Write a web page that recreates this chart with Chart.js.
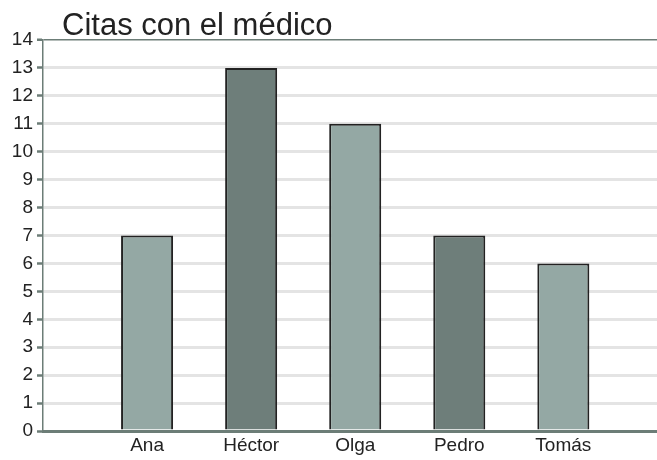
<!DOCTYPE html>
<html>
<head>
<meta charset="utf-8">
<script src="https://cdn.jsdelivr.net/npm/chart.js@4"></script>
<style>
    html, body { margin: 0; padding: 0; background: #ffffff; }
    #chart { display: block; }
</style>
</head>
<body>
<canvas id="chart" width="657" height="460"></canvas>
<script>
// Data
const TITLE = 'Citas con el médico';
const names = ['Ana', 'Héctor', 'Olga', 'Pedro', 'Tomás'];
const visits = [7, 13, 11, 7, 6];
const yTicks = [0, 1, 2, 3, 4, 5, 6, 7, 8, 9, 10, 11, 12, 13, 14];

// Colors
const COLORS = {
    light: '#94a8a4',
    dark: '#6e7e7a',
    axis: '#6c7d77',
    grid: '#e4e4e4',
    edge: '#222222',
    text: '#222222'
};
const FONT = 'Arial, "Liberation Sans", sans-serif';

// Title drawn at the top-left, above the plot
const titlePlugin = {
    id: 'leftTitle',
    afterDraw(chart) {
        const ctx = chart.ctx;
        ctx.save();
        ctx.font = '31px ' + FONT;
        ctx.fillStyle = COLORS.text;
        ctx.textBaseline = 'alphabetic';
        ctx.textAlign = 'left';
        ctx.fillText(TITLE, 62, 35);
        ctx.restore();
    }
};

const ctx = document.getElementById('chart').getContext('2d');

new Chart(ctx, {
    type: 'bar',
    data: {
        datasets: [{
            data: names.map((n, i) => ({ x: i + 1, y: visits[i] })),
            backgroundColor: names.map((n, i) => i % 2 === 0 ? COLORS.light : COLORS.dark),
            borderColor: COLORS.edge,
            borderWidth: { top: 2, left: 2, right: 2, bottom: 0 },
            borderSkipped: false,
            categoryPercentage: 1,
            barPercentage: 0.5
        }]
    },
    options: {
        responsive: false,
        animation: false,
        layout: { padding: { top: 40, left: 0, right: 0, bottom: 0 } },
        plugins: {
            legend: { display: false },
            tooltip: { enabled: false },
            title: { display: false }
        },
        scales: {
            x: {
                type: 'linear',
                min: 0,
                max: 5.9,
                offset: false,
                z: 1,
                afterBuildTicks: (scale) => {
                    scale.ticks = names.map((n, i) => ({ value: i + 1 }));
                },
                afterFit: (scale) => { scale.height = 29; },
                grid: { display: false, drawTicks: false },
                border: { display: true, color: COLORS.axis, width: 3 },
                ticks: {
                    autoSkip: false,
                    maxRotation: 0,
                    padding: 3,
                    color: COLORS.text,
                    font: { family: FONT, size: 19 },
                    callback: (v) => names[v - 1] || ''
                }
            },
            y: {
                min: 0,
                max: 14,
                afterBuildTicks: (scale) => {
                    scale.ticks = yTicks.map(v => ({ value: v }));
                },
                afterFit: (scale) => { scale.width = 43; },
                grid: {
                    color: (c) => c.tick && c.tick.value === 14 ? COLORS.axis
                        : (c.tick && c.tick.value === 0 ? 'rgba(0,0,0,0)' : COLORS.grid),
                    lineWidth: (c) => c.tick && c.tick.value === 14 ? 1.5 : 3,
                    tickColor: COLORS.axis,
                    tickWidth: 2.5,
                    tickLength: 6
                },
                border: { display: true, color: COLORS.axis, width: 1.5 },
                ticks: {
                    padding: 4,
                    color: COLORS.text,
                    font: { family: FONT, size: 19 }
                }
            }
        }
    },
    plugins: [titlePlugin]
});
</script>
</body>
</html>
